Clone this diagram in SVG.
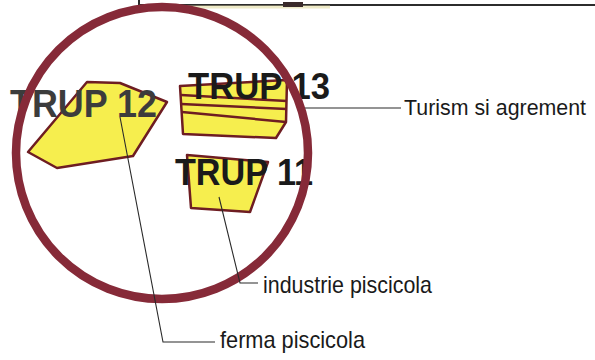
<svg xmlns="http://www.w3.org/2000/svg" width="595" height="360" viewBox="0 0 595 360">
<style>
.zone{fill:#f6ee4e;stroke:#6e1d22;stroke-width:2.5;stroke-linejoin:round}
.stripe{fill:none;stroke:#6e1d22;stroke-width:2.5}
.trup{font-family:"Liberation Sans",Arial,sans-serif;font-weight:bold}
.dark{fill:#1a1a1a}
.gray{fill:#3c3c3c}
.lbl{font-family:"Liberation Sans",Arial,sans-serif;font-size:24px;fill:#1a1a1a}
.lead{fill:none;stroke:#2a2a2a;stroke-width:1.1}
</style>
<rect width="595" height="360" fill="#ffffff"/>
<g id="map-edge">
<path d="M139,0 V5 H595" fill="none" stroke="#2c2c2c" stroke-width="2"/>
<path d="M180,7 H330" stroke="#e8e2b0" stroke-width="3" opacity="0.7"/>
<rect x="283" y="2" width="20" height="5" fill="#3a2a2a"/>
</g>
<g id="trup12">
<polygon class="zone" points="28,152 87,82 120,83 167,102 133,156 57,168"/>
<text class="trup gray" x="10" y="117" font-size="38" textLength="147" lengthAdjust="spacingAndGlyphs">TRUP 12</text>
</g>
<g id="trup13">
<polygon class="zone" points="180,86 287,80 286,122 276,138 183,134"/>
<path class="stripe" d="M181,95 L287,101"/>
<path class="stripe" d="M181,104 L287,109"/>
<path class="stripe" d="M182,112 L286,122"/>
<text class="trup dark" x="188" y="99" font-size="36" textLength="142" lengthAdjust="spacingAndGlyphs">TRUP 13</text>
</g>
<g id="trup11">
<polygon class="zone" points="187,155 268,162 250,212 191,208"/>
<text class="trup dark" x="175" y="185" font-size="37" textLength="138" lengthAdjust="spacingAndGlyphs">TRUP 11</text>
</g>
<g id="ring">
<circle cx="162" cy="153" r="146" fill="none" stroke="#862a38" stroke-width="8.5"/>
</g>
<g id="connectors">
<path class="lead" d="M305,108 H401"/>
<path class="lead" d="M219,197 L240,283 H258"/>
<path class="lead" d="M120,117 L163,342 H215"/>
</g>
<g id="labels">
<text class="lbl" x="404" y="115" font-size="22" style="font-size:22px" textLength="182" lengthAdjust="spacingAndGlyphs">Turism si agrement</text>
<text class="lbl" x="263" y="293" textLength="169" lengthAdjust="spacingAndGlyphs">industrie piscicola</text>
<text class="lbl" x="220" y="348" textLength="145" lengthAdjust="spacingAndGlyphs">ferma piscicola</text>
</g>
</svg>
